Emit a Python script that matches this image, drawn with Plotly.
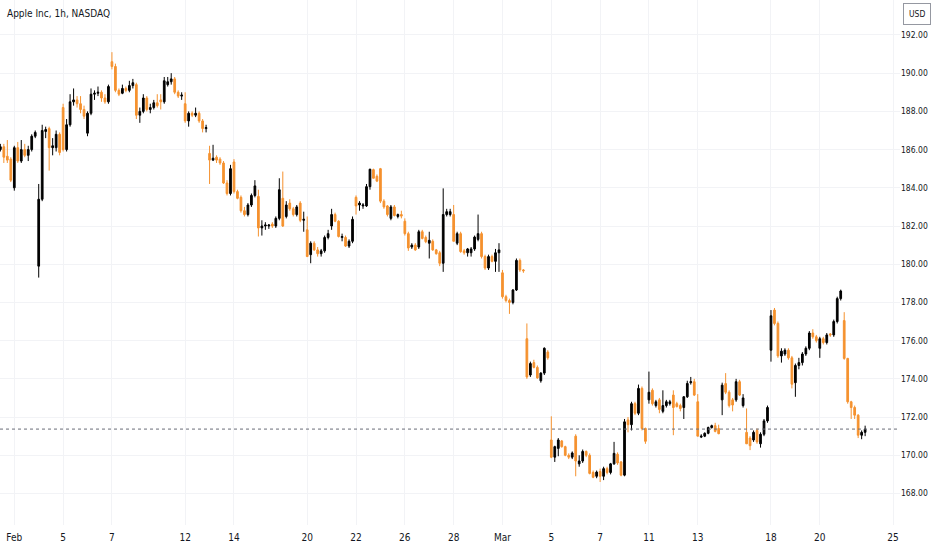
import plotly.graph_objects as go

# ---------------- data ----------------
# trading sessions (Jan 31 only its last 4 hourly bars are visible)
session_days = ["2024-01-31", "2024-02-01", "2024-02-02", "2024-02-05", "2024-02-06", "2024-02-07",
                "2024-02-08", "2024-02-09", "2024-02-12", "2024-02-13", "2024-02-14", "2024-02-15",
                "2024-02-16", "2024-02-20", "2024-02-21", "2024-02-22", "2024-02-23", "2024-02-26",
                "2024-02-27", "2024-02-28", "2024-02-29", "2024-03-01", "2024-03-04", "2024-03-05",
                "2024-03-06", "2024-03-07", "2024-03-08", "2024-03-11", "2024-03-12", "2024-03-13",
                "2024-03-14", "2024-03-15", "2024-03-18", "2024-03-19", "2024-03-20", "2024-03-21",
                "2024-03-22", "2024-03-25"]
session_hours = ["09:30", "10:30", "11:30", "12:30", "13:30", "14:30", "15:30"]
first_day_hours_shown = 4
last_data_day = "2024-03-21"

opens = [
    186.0, 186.15, 185.65, 185.5,
    184.0, 186.1, 185.4, 186.0, 185.7, 186.0, 186.7,
    179.9, 183.4, 186.95, 187.1, 186.1, 186.1, 186.8,
    188.2, 186.0, 187.3, 188.5, 188.6, 188.4, 188.1,
    186.86, 187.9, 188.9, 188.95, 189.0, 188.7, 188.5,
    190.6, 190.35, 189.1, 188.95, 189.2, 189.1, 189.35,
    189.4, 187.8, 188.0, 188.7, 188.1, 188.2, 188.45,
    188.6, 188.5, 189.4, 189.55, 189.7, 189.0, 188.8,
    188.4, 187.5, 187.9, 187.8, 187.9, 187.5, 187.1,
    185.8, 185.45, 185.6, 185.5, 185.3, 184.25, 183.7,
    185.35, 183.8, 183.5, 182.8, 182.6, 183.1, 183.6,
    183.55, 181.9, 182.0, 182.0, 182.1, 182.0, 182.4,
    183.45, 182.5, 183.2, 182.9, 182.6, 183.2, 182.3,
    181.8, 180.5, 181.1, 180.75, 180.55, 180.7, 181.4,
    182.0, 182.6, 182.25, 181.4, 181.4, 180.95, 181.2,
    183.5, 183.1, 183.05, 183.05, 184.06, 184.95, 184.6,
    185.0, 183.3, 183.05, 182.4, 183.0, 182.5, 182.6,
    182.25, 181.6, 180.9, 181.0, 180.9, 181.7, 181.4,
    181.1, 181.2, 180.75, 180.6, 180.05, 182.6, 182.6,
    182.6, 181.1, 181.6, 180.7, 180.6, 180.6, 180.8,
    181.3, 181.6, 180.4, 179.8, 180.4, 180.15, 180.6,
    179.55, 178.3, 178.1, 178.0, 178.65, 180.2, 179.7,
    176.1, 174.2, 174.85, 174.6, 173.9, 174.3, 175.4,
    170.8, 169.9, 170.36, 170.75, 170.45, 170.0, 169.9,
    171.0, 169.55, 169.7, 170.2, 170.0, 169.1, 168.9,
    169.15, 168.9, 169.3, 169.1, 169.55, 170.05, 169.65,
    168.96, 171.85, 171.6, 172.7, 172.2, 173.5, 171.4,
    172.9, 173.4, 172.6, 172.9, 172.3, 172.6, 172.7,
    173.15, 172.7, 172.6, 172.5, 173.06, 173.8, 173.85,
    172.8, 170.95, 171.0, 171.15, 171.45, 171.55, 171.4,
    172.9, 173.75, 173.3, 172.9, 172.9, 173.85, 172.6,
    171.2, 170.9, 170.8, 171.3, 170.6, 171.1, 171.8,
    175.5, 177.6, 176.9, 175.2, 175.3, 175.5, 175.1,
    173.8, 174.7, 174.85, 175.3, 175.6, 176.4, 176.2,
    175.6, 176.1, 175.9, 176.35, 176.3, 177.0, 178.2,
    177.05, 175.07, 172.8, 172.5, 172.1, 171.05, 171.2,
]
highs = [
    186.3, 186.3, 186.5, 185.6,
    186.2, 186.4, 186.5, 186.3, 186.2, 186.8, 187.0,
    184.2, 187.3, 187.2, 187.2, 186.6, 187.0, 186.9,
    188.4, 187.6, 188.9, 189.2, 188.8, 188.8, 188.3,
    188.0, 189.2, 189.1, 189.3, 189.1, 188.9, 189.4,
    191.1, 190.5, 189.2, 189.4, 189.3, 189.6, 189.7,
    189.5, 188.2, 188.9, 188.8, 188.4, 188.6, 188.9,
    188.9, 189.8, 189.8, 190.0, 189.8, 189.1, 189.0,
    189.0, 188.0, 188.0, 188.2, 188.0, 187.6, 187.3,
    186.2, 186.25, 185.7, 185.6, 185.4, 184.4, 185.2,
    185.5, 183.9, 183.6, 183.0, 183.2, 183.7, 184.4,
    183.9, 182.3, 182.2, 182.1, 182.2, 182.5, 184.5,
    184.85, 183.3, 183.4, 183.0, 183.1, 183.3, 182.75,
    182.5, 181.2, 181.2, 180.9, 180.8, 181.5, 181.8,
    182.9, 182.7, 182.3, 181.6, 181.5, 181.3, 182.5,
    183.6, 183.3, 183.2, 184.2, 185.0, 185.0, 184.7,
    185.04, 183.4, 183.1, 183.1, 183.1, 182.65, 182.8,
    182.4, 181.7, 181.1, 181.1, 181.8, 181.8, 181.5,
    181.7, 181.3, 180.8, 180.7, 183.97, 182.9, 182.9,
    183.1, 181.7, 181.7, 180.8, 180.85, 180.9, 181.5,
    182.6, 181.7, 180.5, 180.5, 180.5, 180.8, 181.1,
    179.7, 178.4, 178.2, 178.7, 180.3, 180.3, 179.75,
    176.9, 174.9, 175.0, 174.7, 174.35, 175.65, 175.5,
    172.04, 170.5, 170.9, 170.8, 170.5, 170.1, 170.2,
    171.1, 170.0, 170.3, 170.25, 170.1, 169.2, 169.2,
    169.3, 169.4, 169.4, 169.6, 170.7, 170.15, 169.7,
    171.9, 172.0, 172.8, 172.8, 173.7, 173.6, 171.45,
    174.38, 173.5, 172.9, 173.0, 173.4, 172.9, 172.9,
    173.4, 172.8, 172.7, 173.1, 173.9, 174.1, 174.0,
    173.2, 171.1, 171.2, 171.5, 171.6, 171.7, 171.6,
    173.8, 174.3, 173.4, 173.0, 174.0, 173.95, 173.2,
    172.45, 171.0, 171.3, 171.4, 171.2, 171.9, 172.6,
    177.6, 177.71, 177.0, 175.6, 175.6, 175.6, 175.2,
    174.8, 175.1, 175.4, 175.7, 176.5, 176.6, 176.3,
    176.2, 176.2, 176.4, 176.4, 177.1, 178.3, 178.67,
    177.49, 175.1, 172.85, 172.6, 172.15, 171.3, 171.55,
]
lows = [
    185.9, 185.3, 185.3, 184.3,
    183.85, 185.3, 185.3, 185.6, 185.4, 185.9, 186.6,
    179.3, 183.3, 186.6, 184.9, 185.7, 185.9, 185.7,
    185.9, 185.9, 187.2, 188.3, 188.2, 187.9, 187.6,
    186.7, 187.8, 188.6, 188.8, 188.5, 188.4, 188.4,
    190.2, 189.0, 188.8, 188.9, 189.0, 189.0, 189.2,
    187.6, 187.4, 187.9, 188.0, 187.9, 188.1, 188.2,
    188.1, 188.4, 189.3, 189.4, 188.9, 188.7, 188.6,
    187.4, 187.2, 187.7, 187.7, 187.4, 186.9, 186.9,
    184.2, 185.4, 185.3, 185.2, 184.2, 183.6, 183.6,
    183.7, 183.4, 182.7, 182.5, 182.5, 183.0, 183.5,
    181.45, 181.5, 181.8, 181.85, 181.9, 181.9, 182.3,
    181.95, 182.4, 182.8, 182.5, 182.5, 182.2, 181.7,
    180.4, 180.05, 180.7, 180.4, 180.4, 180.6, 181.3,
    181.8, 182.2, 181.4, 181.2, 180.9, 180.85, 181.1,
    182.6, 182.8, 182.9, 183.0, 183.9, 184.5, 184.3,
    183.2, 182.9, 182.5, 182.3, 182.5, 182.4, 182.4,
    181.5, 180.7, 180.8, 180.7, 180.8, 181.3, 181.1,
    180.3, 180.7, 180.5, 179.9, 179.6, 182.5, 182.5,
    181.2, 181.0, 180.6, 180.5, 180.4, 180.4, 180.7,
    181.2, 180.3, 179.7, 179.7, 180.1, 179.6, 179.6,
    178.2, 178.0, 177.4, 177.9, 178.6, 179.6, 179.55,
    174.0, 174.1, 174.55, 174.0, 173.8, 174.2, 175.0,
    169.85, 169.65, 169.95, 170.4, 169.95, 169.8, 169.8,
    168.9, 169.4, 169.6, 169.9, 169.0, 168.8, 168.8,
    168.6, 168.7, 169.0, 169.0, 169.5, 169.5, 168.9,
    168.9, 171.2, 171.3, 172.1, 172.1, 171.3, 170.6,
    172.7, 172.6, 172.5, 172.2, 172.2, 172.5, 172.6,
    171.05, 172.5, 172.3, 171.9, 173.0, 173.7, 173.1,
    171.0, 170.9, 170.95, 171.1, 171.4, 171.2, 171.1,
    172.1, 173.2, 172.5, 172.3, 172.8, 173.1, 172.5,
    170.6, 170.27, 170.7, 170.6, 170.4, 171.0, 171.7,
    174.9, 176.8, 175.1, 174.85, 175.2, 175.0, 173.5,
    173.06, 174.5, 174.7, 175.2, 175.5, 176.1, 175.9,
    175.1, 175.8, 175.8, 176.2, 176.2, 176.9, 178.1,
    175.0, 172.7, 171.9, 171.9, 170.9, 170.84, 171.0,
]
closes = [
    186.15, 185.6, 185.45, 184.4,
    186.1, 185.4, 186.0, 185.7, 186.0, 186.7, 186.9,
    183.4, 187.0, 187.05, 186.1, 186.2, 186.8, 185.85,
    186.0, 187.3, 188.5, 188.6, 188.4, 188.1, 187.75,
    187.9, 188.9, 188.95, 189.0, 188.7, 188.5, 189.3,
    190.35, 189.1, 188.9, 189.2, 189.1, 189.35, 189.5,
    187.8, 188.0, 188.7, 188.1, 188.2, 188.45, 188.3,
    188.5, 189.6, 189.55, 189.7, 189.0, 188.8, 188.85,
    187.5, 187.9, 187.8, 187.9, 187.5, 187.1, 187.15,
    185.45, 185.55, 185.45, 185.3, 184.25, 183.7, 185.0,
    183.8, 183.45, 182.8, 182.6, 183.1, 183.6, 184.1,
    181.9, 182.0, 182.05, 182.05, 182.0, 182.4, 183.9,
    182.0, 183.1, 182.9, 182.6, 183.0, 182.3, 182.35,
    180.4, 181.1, 180.75, 180.55, 180.7, 181.4, 181.6,
    182.6, 182.25, 181.45, 181.45, 180.95, 181.2, 182.35,
    183.05, 183.2, 183.1, 184.06, 184.97, 184.5, 184.35,
    183.3, 183.0, 182.6, 183.0, 182.55, 182.6, 182.52,
    181.6, 180.85, 181.0, 180.75, 181.7, 181.35, 181.18,
    181.25, 180.75, 180.55, 180.05, 182.6, 182.75, 182.75,
    181.2, 181.6, 180.66, 180.6, 180.8, 180.8, 181.42,
    181.6, 180.4, 179.8, 180.4, 180.15, 180.6, 180.75,
    178.3, 178.1, 178.0, 178.65, 180.2, 179.7, 179.66,
    174.1, 174.8, 174.6, 174.05, 174.3, 175.6, 175.1,
    169.9, 170.45, 170.8, 170.45, 170.0, 169.9, 170.12,
    169.7, 169.7, 170.2, 170.0, 169.05, 168.85, 169.12,
    168.9, 169.3, 169.1, 169.55, 170.1, 169.6, 168.96,
    171.75, 171.6, 172.7, 172.2, 173.5, 171.4, 170.73,
    173.3, 172.7, 172.8, 172.4, 172.6, 172.8, 172.8,
    172.5, 172.55, 172.45, 173.06, 173.76, 173.85, 173.15,
    171.0, 171.0, 171.15, 171.45, 171.55, 171.25, 171.13,
    173.67, 173.3, 172.6, 172.63, 173.85, 173.15, 173.0,
    170.6, 170.5, 171.2, 170.7, 171.1, 171.8, 172.5,
    177.3, 176.9, 175.2, 175.45, 175.5, 175.1, 173.72,
    174.7, 174.85, 175.3, 175.6, 176.4, 176.2, 176.0,
    176.1, 175.9, 176.3, 176.3, 177.0, 178.2, 178.6,
    175.07, 172.8, 172.5, 172.1, 171.05, 171.2, 171.37,
]

tick_days = ["2024-02-01", "2024-02-05", "2024-02-07", "2024-02-12", "2024-02-14", "2024-02-20",
             "2024-02-22", "2024-02-26", "2024-02-28", "2024-03-01", "2024-03-05", "2024-03-07",
             "2024-03-11", "2024-03-13", "2024-03-18", "2024-03-20", "2024-03-25"]
tick_labels = ["Feb", "5", "7", "12", "14", "20", "22", "26", "28", "Mar", "5", "7", "11", "13",
               "18", "20", "25"]
price_ticks = [168, 170, 172, 174, 176, 178, 180, 182, 184, 186, 188, 190, 192]

title_text = "Apple Inc, 1h, NASDAQ"
currency = "USD"

# ---------------- build bar positions (one slot per trading hour) ----------------
nh = len(session_hours)
xs, hover = [], []
for d, day in enumerate(session_days):
    if day > last_data_day:
        break
    start_h = nh - first_day_hours_shown if d == 0 else 0
    for h in range(start_h, nh):
        xs.append(d * nh + h)
        hover.append(f"{day} {session_hours[h]}")
xs = xs[:len(opens)]
tickvals = [session_days.index(t) * nh for t in tick_days]

UP = "#000000"
DOWN = "#F5922F"
FONT = "DejaVu Sans Condensed, Liberation Sans Narrow, Roboto Condensed, Roboto, sans-serif"

fig = go.Figure()
fig.add_trace(go.Candlestick(
    x=xs, open=opens, high=highs, low=lows, close=closes,
    text=hover, hoverinfo="text+y",
    increasing=dict(line=dict(color=UP, width=1), fillcolor=UP),
    decreasing=dict(line=dict(color=DOWN, width=1), fillcolor=DOWN),
    whiskerwidth=0,
    showlegend=False,
))

# last price dotted line
fig.add_shape(type="line", xref="paper", x0=0, x1=1, yref="y",
              y0=closes[-1], y1=closes[-1],
              line=dict(color="#6a6d78", width=1, dash="dot"))

fig.update_layout(
    width=932, height=550,
    margin=dict(l=0, r=32, t=0, b=25),
    paper_bgcolor="white", plot_bgcolor="white",
    font=dict(family=FONT, size=10, color="#131722"),
    showlegend=False,
    boxgap=0.3,
    xaxis=dict(
        range=[nh * 1 - 4.1, nh * 1 + 254.0],
        rangeslider=dict(visible=False),
        tickmode="array", tickvals=tickvals, ticktext=tick_labels,
        showgrid=True, gridcolor="#F2F3F6", gridwidth=1,
        zeroline=False, showline=False, ticks="",
        ticklabelstandoff=5,
        tickfont=dict(size=10, color="#131722", family=FONT),
    ),
    yaxis=dict(
        side="right",
        range=[166.35, 193.83],
        tickmode="array", tickvals=price_ticks,
        tickformat=".2f",
        showgrid=True, gridcolor="#F2F3F6", gridwidth=1,
        zeroline=False, showline=False, ticks="",
        tickfont=dict(size=8.5, color="#131722", family=FONT),
    ),
    annotations=[
        dict(text=title_text, xref="paper", yref="paper", x=0.005, y=0.974,
             xanchor="left", yanchor="middle", showarrow=False,
             font=dict(size=10, color="#131722", family=FONT)),
        dict(text=currency, xref="paper", yref="paper", x=1.0, y=0.973,
             xanchor="left", yanchor="middle", showarrow=False, xshift=3,
             font=dict(size=8.5, color="#131722", family=FONT),
             bordercolor="#9598a1", borderwidth=1, borderpad=5, bgcolor="white"),
    ],
)

fig.write_html("out.html", config={"displayModeBar": False},
               post_script="document.body.style.margin='0';document.body.style.overflow='hidden';")
